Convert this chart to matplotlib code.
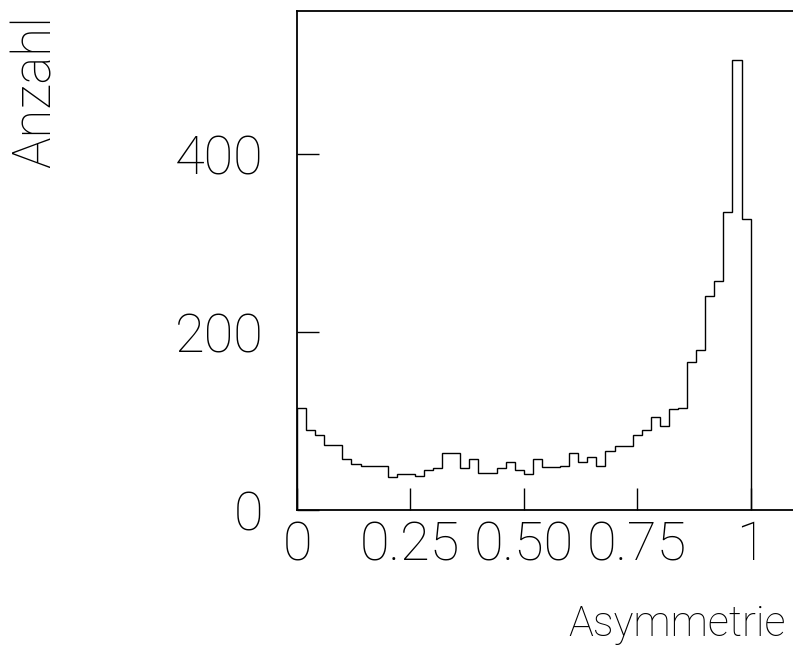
import numpy as np
import matplotlib
matplotlib.use("Agg")
import matplotlib.pyplot as plt

# ---- DATA (50 bins on 0..1) ----
bin_lo, bin_hi, n_bins = 0.0, 1.0, 50
counts = [115, 90, 84, 73, 73, 57, 52, 49, 50, 50,
          37, 40, 40, 38, 45, 47, 64, 64, 47, 57,
          42, 42, 47, 54, 45, 41, 57, 48, 48, 49,
          64, 54, 60, 49, 66, 72, 72, 84, 90, 104,
          94, 114, 115, 166, 180, 241, 257, 335, 506, 327]
x_ticks = [0, 0.25, 0.5, 0.75, 1]
x_ticklabels = ["0", "0.25", "0.50", "0.75", "1"]
y_ticks = [0, 200, 400]
y_ticklabels = ["0", "200", "400"]
x_title = "Asymmetrie"
y_title = "Anzahl"

# ---- STYLE ----
plt.rcParams['font.family'] = ['Roboto', 'DejaVu Sans']
fs = 39
fs_title = 30
fw = 200
W, H = 793, 646

fig = plt.figure(figsize=(W / 100, H / 100), dpi=100)
ax = fig.add_axes([297 / W, 1 - 510 / H, 499 / W, 499 / H])

edges = np.linspace(bin_lo, bin_hi, n_bins + 1)
ax.stairs(counts, edges, baseline=0, color="black", linewidth=1.0)

ax.set_xlim(0, 1.1)
ax.set_ylim(0, 561)

ax.set_xticks(x_ticks)
ax.set_xticklabels(x_ticklabels, fontsize=fs, fontweight=fw)
ax.set_yticks(y_ticks)
ax.set_yticklabels(y_ticklabels, fontsize=fs, fontweight=fw)
ax.tick_params(axis="x", direction="in", length=16, width=1, pad=7)
ax.tick_params(axis="y", direction="in", length=16, width=1, pad=24)

for s in ax.spines.values():
    s.set_linewidth(1.3)

fig.text(786 / W, 1 - 636 / H, x_title, ha="right", va="baseline",
         fontsize=fs_title, fontweight=fw)
fig.text(10 / W, 1 - 15 / H, y_title, ha="left", va="top", rotation=90,
         fontsize=fs - 1, fontweight=fw)

fig.savefig("out.png", dpi=100)
